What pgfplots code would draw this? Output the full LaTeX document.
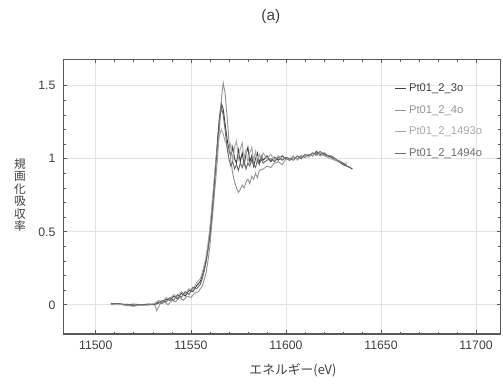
\documentclass[border=0pt]{standalone}
\usepackage{fontspec}
\setmainfont{Liberation Sans}
\newfontfamily\jp{Noto Sans CJK JP}
\usepackage{pgfplots}
\pgfplotsset{compat=1.18}
\definecolor{cA}{gray}{0.25}
\definecolor{cB}{gray}{0.58}
\definecolor{cC}{gray}{0.66}
\definecolor{cD}{gray}{0.42}
\begin{document}
\begin{tikzpicture}
\useasboundingbox (0,0) rectangle (377.25pt,288.75pt);
\begin{axis}[
  at={(47.6pt,38.25pt)}, anchor=south west,
  scale only axis, width=328pt, height=205.9pt,
  xmin=11483, xmax=11713, ymin=-0.2, ymax=1.68,
  xtick={11500,11550,11600,11650,11700},
  xticklabels={11500,11550,11600,11650,11700},
  scaled x ticks=false,
  ytick={0,0.5,1,1.5}, yticklabels={0,0.5,1,1.5},
  minor x tick num=4, minor y tick num=4,
  tick align=inside, tick pos=both,
  major tick length=3pt, minor tick length=1.8pt,
  grid=major, major grid style={gray!22, line width=0.5pt},
  axis line style={black!65, line width=0.8pt},
  tick style={black!65, line width=0.5pt},
  ticklabel style={font=\fontsize{9.2}{11}\selectfont, text=black!75},
  xticklabel style={yshift=-1.5pt},
  yticklabel style={xshift=-2.5pt},
  /pgf/number format/assume math mode=true,
  /pgf/number format/1000 sep={},
  legend style={at={(rel axis cs:0.748,0.932)}, anchor=north west, draw=none, fill=none,
    font=\fontsize{8.4}{10}\selectfont, row sep=4.8pt},
  legend cell align=left,
  legend image code/.code={\draw[#1] (0pt,0pt) -- (8pt,0pt);},
  clip=false,
]
% Pt01_2_3o (dark, peak 1.38)
\addplot[cA, line width=0.7pt] coordinates {
(11508,0.01)(11512,0.005)(11516,0.0)(11520,-0.005)(11524,0.0)(11528,0.0)(11531,0.005)
(11533,0.02)(11535,0.01)(11537,0.04)(11539,0.03)(11541,0.06)(11543,0.04)(11545,0.08)
(11547,0.06)(11549,0.1)(11551,0.09)(11553,0.13)(11555,0.16)(11556,0.2)(11557,0.25)
(11558,0.31)(11559,0.39)(11560,0.49)(11561,0.63)(11562,0.79)(11563,0.96)(11564,1.12)
(11565,1.28)(11566,1.38)(11567,1.34)(11568,1.24)(11569,1.14)(11570,1.06)(11571,1.02)
(11572,1.08)(11573,1.0)(11574,0.97)(11575,1.06)(11576,0.98)(11577,1.04)(11578,0.96)
(11579,1.03)(11580,1.08)(11581,0.98)(11582,1.02)(11583,0.95)(11584,1.0)(11585,1.04)
(11586,0.97)(11587,1.02)(11588,0.99)(11590,1.02)(11592,0.98)(11594,1.01)(11596,0.99)
(11598,1.02)(11600,1.0)(11602,0.99)(11604,1.01)(11606,1.0)(11608,1.02)(11610,1.01)
(11612,1.03)(11614,1.02)(11616,1.05)(11618,1.03)(11620,1.04)(11622,1.02)(11624,1.01)
(11626,0.99)(11628,0.98)(11630,0.96)(11632,0.95)(11635,0.93)};
\addlegendentry{\textcolor{cA}{Pt01\_2\_3o}}
% Pt01_2_4o (light, peak 1.52, deep dip)
\addplot[cB, line width=0.7pt] coordinates {
(11508,0.0)(11512,0.005)(11516,-0.005)(11520,-0.01)(11524,0.0)(11528,0.005)(11531,0.0)
(11532,-0.04)(11534,0.01)(11536,0.02)(11538,0.0)(11540,0.03)(11542,0.02)(11544,0.05)
(11546,0.03)(11548,0.06)(11550,0.05)(11552,0.08)(11554,0.09)(11556,0.13)(11557,0.17)
(11558,0.22)(11559,0.3)(11560,0.4)(11561,0.55)(11562,0.7)(11563,0.85)(11564,1.0)
(11565,1.2)(11566,1.4)(11567,1.52)(11568,1.45)(11569,1.3)(11570,1.13)(11571,0.99)
(11572,0.9)(11573,0.84)(11574,0.8)(11575,0.77)(11576,0.79)(11577,0.82)(11578,0.8)
(11579,0.84)(11580,0.86)(11581,0.83)(11582,0.88)(11583,0.86)(11584,0.9)(11585,0.87)
(11586,0.92)(11588,0.93)(11590,0.95)(11592,0.94)(11594,0.97)(11596,0.98)(11598,0.96)
(11600,1.0)(11602,0.99)(11604,1.01)(11606,1.0)(11608,1.02)(11610,1.01)(11612,1.03)
(11614,1.02)(11616,1.04)(11618,1.02)(11620,1.03)(11622,1.01)(11624,1.0)(11626,0.99)
(11628,0.98)(11630,0.97)(11632,0.96)};
\addlegendentry{\textcolor{cB}{Pt01\_2\_4o}}
% Pt01_2_1493o (lighter, peak 1.2)
\addplot[cC, line width=0.7pt] coordinates {
(11508,0.005)(11512,0.0)(11516,0.005)(11520,0.0)(11524,-0.005)(11528,0.0)(11531,0.01)
(11533,0.03)(11535,0.02)(11537,0.05)(11539,0.04)(11541,0.07)(11543,0.05)(11545,0.09)
(11547,0.07)(11549,0.11)(11551,0.1)(11553,0.15)(11555,0.18)(11556,0.22)(11557,0.27)
(11558,0.33)(11559,0.42)(11560,0.53)(11561,0.67)(11562,0.82)(11563,0.97)(11564,1.08)
(11565,1.16)(11566,1.2)(11567,1.17)(11568,1.12)(11569,1.1)(11570,1.05)(11571,1.1)
(11572,0.99)(11573,1.08)(11574,1.12)(11575,1.0)(11576,1.07)(11577,1.11)(11578,1.0)
(11579,1.06)(11580,0.98)(11581,1.04)(11582,1.08)(11583,0.99)(11584,1.05)(11585,0.98)
(11586,1.03)(11587,0.99)(11588,1.04)(11590,1.0)(11592,1.03)(11594,0.99)(11596,1.02)
(11598,1.0)(11600,1.01)(11602,1.0)(11604,1.02)(11606,0.99)(11608,1.01)(11610,1.02)
(11612,1.01)(11614,1.04)(11616,1.02)(11618,1.04)(11620,1.02)(11622,1.01)(11624,1.0)
(11626,0.99)(11628,0.99)(11630,0.97)(11632,0.97)};
\addlegendentry{\textcolor{cC}{Pt01\_2\_1493o}}
% Pt01_2_1494o (medium, peak 1.35)
\addplot[cD, line width=0.7pt] coordinates {
(11508,0.005)(11512,0.01)(11516,0.0)(11520,0.005)(11524,0.0)(11528,0.005)(11531,0.0)
(11533,0.01)(11535,0.03)(11537,0.02)(11539,0.05)(11541,0.03)(11543,0.07)(11545,0.05)
(11547,0.09)(11549,0.07)(11551,0.12)(11553,0.11)(11555,0.14)(11556,0.18)(11557,0.23)
(11558,0.29)(11559,0.37)(11560,0.47)(11561,0.6)(11562,0.76)(11563,0.93)(11564,1.1)
(11565,1.26)(11566,1.35)(11567,1.3)(11568,1.2)(11569,1.08)(11570,1.0)(11571,0.95)
(11572,0.98)(11573,0.93)(11574,0.96)(11575,0.92)(11576,0.97)(11577,0.94)(11578,0.99)
(11579,0.93)(11580,0.97)(11581,0.95)(11582,0.99)(11583,0.96)(11584,0.94)(11585,0.99)
(11586,0.96)(11587,1.0)(11588,0.97)(11590,0.99)(11592,1.0)(11594,0.98)(11596,1.01)
(11598,0.99)(11600,1.01)(11602,1.0)(11604,0.99)(11606,1.02)(11608,1.0)(11610,1.03)
(11612,1.02)(11614,1.04)(11616,1.03)(11618,1.05)(11620,1.03)(11622,1.02)(11624,1.02)
(11626,1.0)(11628,0.98)(11630,0.97)(11632,0.95)(11634,0.94)};
\addlegendentry{\textcolor{cD}{Pt01\_2\_1494o}}
\node[font=\jp\fontsize{8.8}{9.4}\selectfont, align=center, text=black!75]
  at (rel axis cs:0,0.506) [xshift=-32.6pt] {規\\画\\化\\吸\\収\\率};
\node[font=\jp\fontsize{9.6}{11}\selectfont, text=black!75]
  at (rel axis cs:0.5246,0) [yshift=-27pt] {エネルギー(eV)};
\node[font=\fontsize{11.5}{13}\selectfont, text=black!75]
  at (rel axis cs:0.474,1) [yshift=32pt] {(a)};
\end{axis}
\end{tikzpicture}
\end{document}
